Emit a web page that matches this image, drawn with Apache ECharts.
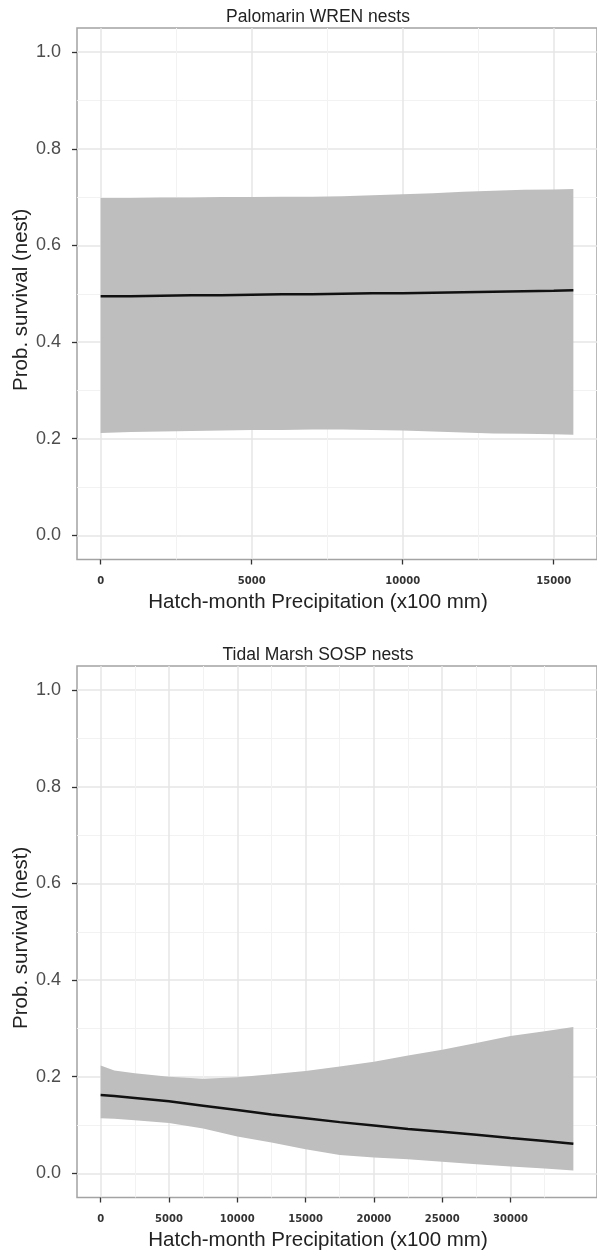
<!DOCTYPE html>
<html>
<head>
<meta charset="utf-8">
<script src="https://cdn.jsdelivr.net/npm/echarts@6/dist/echarts.min.js"></script>
<style>
  html, body { margin: 0; padding: 0; background: #ffffff; }
  #chart { width: 597px; height: 1253px; }
</style>
</head>
<body>
<div id="chart"></div>
<script>
// Predicted nest survival (fit with confidence band) against hatch-month precipitation

// Palomarin WREN nests
const wrenPrecip = [0, 1000, 2000, 3000, 4000, 5000, 6000, 7000, 8000, 9000, 10000, 11000, 12000, 13000, 14000, 15000, 15650];
const wrenFit    = [0.495, 0.495, 0.496, 0.497, 0.497, 0.498, 0.499, 0.499, 0.500, 0.501, 0.501, 0.502, 0.503, 0.504, 0.505, 0.506, 0.507];
const wrenLower  = [0.212, 0.214, 0.215, 0.216, 0.217, 0.218, 0.218, 0.219, 0.219, 0.218, 0.217, 0.215, 0.213, 0.211, 0.210, 0.209, 0.208];
const wrenUpper  = [0.698, 0.698, 0.699, 0.699, 0.700, 0.700, 0.701, 0.701, 0.702, 0.704, 0.706, 0.708, 0.711, 0.713, 0.715, 0.716, 0.717];

// Tidal Marsh SOSP nests
const sospPrecip = [0, 1000, 2500, 5000, 7500, 10000, 12500, 15000, 17500, 20000, 22500, 25000, 27500, 30000, 32500, 34600];
const sospFit    = [0.162, 0.160, 0.156, 0.149, 0.140, 0.131, 0.122, 0.114, 0.106, 0.099, 0.092, 0.086, 0.080, 0.073, 0.067, 0.061];
const sospLower  = [0.114, 0.113, 0.110, 0.104, 0.093, 0.076, 0.064, 0.050, 0.038, 0.033, 0.029, 0.024, 0.019, 0.014, 0.010, 0.006];
const sospUpper  = [0.223, 0.213, 0.207, 0.200, 0.196, 0.199, 0.205, 0.212, 0.221, 0.231, 0.244, 0.256, 0.270, 0.284, 0.294, 0.303];

// Axis breaks
const yMajorTicks = [0, 0.2, 0.4, 0.6, 0.8, 1.0];
const yMinorTicks = [0.1, 0.3, 0.5, 0.7, 0.9];
const wrenMajorTicks = [0, 5000, 10000, 15000];
const wrenMinorTicks = [2500, 7500, 12500];
const sospMajorTicks = [0, 5000, 10000, 15000, 20000, 25000, 30000];
const sospMinorTicks = [2500, 7500, 12500, 17500, 22500, 27500, 32500];

// Text
const panelTitles = ['Palomarin WREN nests', 'Tidal Marsh SOSP nests'];
const xTitle = 'Hatch-month Precipitation (x100 mm)';
const yTitle = 'Prob. survival (nest)';

const panels = [
  { title: panelTitles[0], x: wrenPrecip, fit: wrenFit, lo: wrenLower, hi: wrenUpper, major: wrenMajorTicks, minor: wrenMinorTicks },
  { title: panelTitles[1], x: sospPrecip, fit: sospFit, lo: sospLower, hi: sospUpper, major: sospMajorTicks, minor: sospMinorTicks }
];

// Layout
const PLOT_LEFT = 77, PLOT_WIDTH = 527, PLOT_HEIGHT = 531.5;
const PANEL_TOPS = [28, 666];
const TEXT_CENTER_X = 318;
const FONT = '"Liberation Sans", Arial, sans-serif';

const MAJOR_GRID = '#e6e6e6', MINOR_GRID = '#f2f2f2';

function expanded(values, mult) {
  const lo = Math.min(...values), hi = Math.max(...values);
  const pad = (hi - lo) * mult;
  return [lo - pad, hi + pad];
}

const grid = [], xAxis = [], yAxis = [], series = [], graphic = [];

panels.forEach((p, i) => {
  const top = PANEL_TOPS[i];
  const xr = expanded(p.x, 0.05);
  grid.push({
    left: PLOT_LEFT, top: top, width: PLOT_WIDTH, height: PLOT_HEIGHT,
    show: true, borderColor: '#a3a3a3', borderWidth: 1.5, backgroundColor: 'transparent'
  });

  // main x axis: ticks, labels and major grid lines
  xAxis.push({
    type: 'value', gridIndex: i, min: xr[0], max: xr[1],
    axisLine: { show: false, onZero: false },
    axisTick: { show: true, customValues: p.major, length: 5, lineStyle: { color: '#333', width: 1.3 } },
    axisLabel: {
      customValues: p.major, margin: 17, fontSize: 10, fontWeight: 'bold',
      fontFamily: '"DejaVu Sans", sans-serif', color: '#333',
      formatter: v => String(Math.round(v))
    },
    splitLine: { show: true, lineStyle: { color: MAJOR_GRID, width: 1.5 } }
  });
  // secondary x axis: minor grid lines only
  xAxis.push({
    type: 'value', gridIndex: i, min: xr[0], max: xr[1],
    axisLine: { show: false, onZero: false },
    axisTick: { show: false, customValues: p.minor },
    axisLabel: { show: false, customValues: p.minor },
    splitLine: { show: true, lineStyle: { color: MINOR_GRID, width: 1 } }
  });

  yAxis.push({
    type: 'value', gridIndex: i, min: -0.05, max: 1.05,
    axisLine: { show: false, onZero: false },
    axisTick: { show: true, customValues: yMajorTicks, length: 5, lineStyle: { color: '#333', width: 1.3 } },
    axisLabel: {
      customValues: yMajorTicks, margin: 16, fontSize: 18, fontFamily: FONT, color: '#4d4d4d',
      formatter: v => v.toFixed(1)
    },
    splitLine: { show: true, lineStyle: { color: MAJOR_GRID, width: 1.5 } }
  });
  yAxis.push({
    type: 'value', gridIndex: i, min: -0.05, max: 1.05,
    axisLine: { show: false, onZero: false },
    axisTick: { show: false, customValues: yMinorTicks },
    axisLabel: { show: false, customValues: yMinorTicks },
    splitLine: { show: true, lineStyle: { color: MINOR_GRID, width: 1 } }
  });

  const xMain = i * 2, yMain = i * 2;

  // confidence band: polygon along the upper bound and back along the lower bound
  series.push({
    type: 'custom', xAxisIndex: xMain, yAxisIndex: yMain, silent: true, z: 2,
    data: p.x.map((x, k) => [x, p.lo[k], p.hi[k]]),
    encode: { x: 0, y: [1, 2] },
    renderItem: (params, api) => {
      if (params.dataIndex !== 0) return null;
      const pts = [];
      for (let k = 0; k < p.x.length; k++) pts.push(api.coord([p.x[k], p.hi[k]]));
      for (let k = p.x.length - 1; k >= 0; k--) pts.push(api.coord([p.x[k], p.lo[k]]));
      return { type: 'polygon', shape: { points: pts }, style: { fill: '#bebebe' } };
    }
  });
  // fitted survival curve
  series.push({
    type: 'line', xAxisIndex: xMain, yAxisIndex: yMain,
    data: p.x.map((x, k) => [x, p.fit[k]]),
    showSymbol: false, symbol: 'none', silent: true,
    lineStyle: { color: '#111111', width: 2.5 }, z: 5
  });

  // panel title
  graphic.push({
    type: 'text', x: TEXT_CENTER_X, y: top - 11,
    style: { text: p.title, fontSize: 17.5, fontFamily: FONT, fill: '#222', align: 'center', verticalAlign: 'middle' }
  });
  // x axis title
  graphic.push({
    type: 'text', x: TEXT_CENTER_X, y: top + PLOT_HEIGHT + 43,
    style: { text: xTitle, fontSize: 20.5, fontFamily: FONT, fill: '#222', align: 'center', verticalAlign: 'middle' }
  });
  // y axis title
  graphic.push({
    type: 'text', x: 21, y: top + PLOT_HEIGHT / 2 + 6, rotation: Math.PI / 2,
    style: { text: yTitle, fontSize: 20.5, fontFamily: FONT, fill: '#222', align: 'center', verticalAlign: 'middle' }
  });
});

const chart = echarts.init(document.getElementById('chart'), null, { renderer: 'canvas' });
chart.setOption({
  animation: false,
  backgroundColor: '#ffffff',
  grid, xAxis, yAxis, series, graphic
});
</script>
</body>
</html>
